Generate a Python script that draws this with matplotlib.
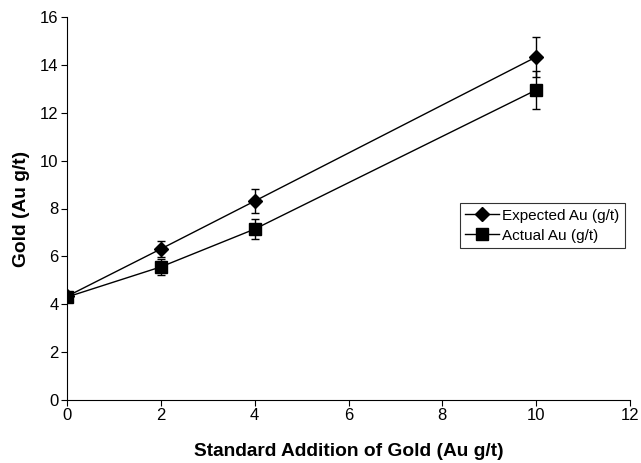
import numpy as np
import matplotlib.pyplot as plt
from matplotlib.lines import Line2D

plt.rcParams['font.family'] = ['Liberation Sans', 'DejaVu Sans']

added = [0, 2, 4, 10]
expected = [4.33, 6.31, 8.31, 14.33]
expected_err = [0.12, 0.35, 0.5, 0.82]
actual = [4.3, 5.56, 7.14, 12.95]
actual_err = [0.12, 0.33, 0.42, 0.8]

fig = plt.figure(figsize=(6.41, 4.63), dpi=100)
ax = fig.add_axes([67 / 641, 63 / 463, 563 / 641, 383 / 463])

ax.errorbar(added, expected, yerr=expected_err, color='black', lw=1,
            marker='D', markersize=7, capsize=3, elinewidth=1)
ax.errorbar(added, actual, yerr=actual_err, color='black', lw=1,
            marker='s', markersize=8, capsize=3, elinewidth=1)

ax.set_xlim(0, 12)
ax.set_ylim(0, 16)
ax.set_xticks(np.arange(0, 13, 2))
ax.set_yticks(np.arange(0, 17, 2))
ax.spines['top'].set_visible(False)
ax.spines['right'].set_visible(False)
ax.tick_params(labelsize=12, length=4, direction='out', pad=2)

ax.set_xlabel('Standard Addition of Gold (Au g/t)', fontsize=13.8,
              fontweight='bold', labelpad=14)
ax.set_ylabel('Gold (Au g/t)', fontsize=13.8, fontweight='bold', labelpad=7)

handles = [Line2D([], [], color='black', lw=1, marker='D', markersize=7),
           Line2D([], [], color='black', lw=1, marker='s', markersize=8)]
leg = ax.legend(handles, ['Expected Au (g/t)', 'Actual Au (g/t)'],
                loc='center left', bbox_to_anchor=(0.698, 0.455),
                fontsize=11, frameon=True, fancybox=False,
                edgecolor='black', handlelength=2.2, handletextpad=0.2,
                borderpad=0.35, labelspacing=0.4, borderaxespad=0)
leg.get_frame().set_linewidth(0.8)

plt.savefig('out.png', dpi=100)
